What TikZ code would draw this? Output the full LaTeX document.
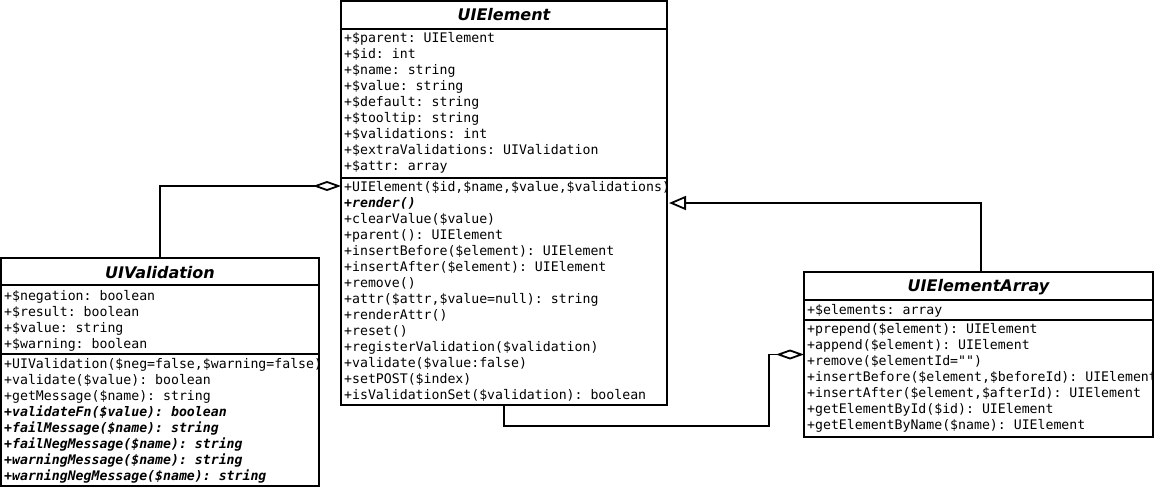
\documentclass[tikz,border=0pt]{standalone}
\usepackage{fontspec}
\setmonofont{DejaVu Sans Mono}
\setsansfont{DejaVu Sans}
\usetikzlibrary{arrows.meta}
% stack of member lines, 16pt apart, baseline on the first line
\newcommand\classlines[1]{\vtop{\baselineskip=16pt\lineskip=0pt\lineskiplimit=-100pt\halign{##\hfil\cr#1\crcr}}}
\tikzset{
  classbox/.style={draw=black, line width=1.8pt, fill=white, inner sep=0pt, outer sep=0pt, anchor=north west},
  compsep/.style={line width=1.8pt},
  members/.style={inner sep=0pt, anchor=base west, font=\fontsize{13.2pt}{16pt}\selectfont\ttfamily},
  classname/.style={inner sep=0pt, anchor=base, font=\fontsize{16pt}{19pt}\selectfont\sffamily\bfseries\itshape},
  aggregation/.style={line width=1.8pt, -{Diamond[fill=white,length=28pt,width=10pt]}},
  generalization/.style={line width=1.8pt, -{Triangle[fill=white,length=17pt,width=14pt]}},
}
\begin{document}
\begin{tikzpicture}[x=1pt,y=-1pt]
\fill[white] (0,0) rectangle (1154,487);
\useasboundingbox (0,0) rectangle (1154,487);

% ---- UIElement ----
\node[classbox, minimum width=326pt, minimum height=404pt] (el) at (341,1) {};
\draw[compsep] ([yshift=-28pt]el.north west) -- ([yshift=-28pt]el.north east);
\draw[compsep] ([yshift=-177pt]el.north west) -- ([yshift=-177pt]el.north east);
\node[classname] (el-name) at (504,21) {UIElement};
\node[members] (el-attr) at (344,43) {\classlines{%
+\$parent: UIElement\cr
+\$id: int\cr
+\$name: string\cr
+\$value: string\cr
+\$default: string\cr
+\$tooltip: string\cr
+\$validations: int\cr
+\$extraValidations: UIValidation\cr
+\$attr: array}};
\node[members] (el-ops) at (344,191) {\classlines{%
+UIElement(\$id,\$name,\$value,\$validations)\cr
\bfseries\itshape +render()\cr
+clearValue(\$value)\cr
+parent(): UIElement\cr
+insertBefore(\$element): UIElement\cr
+insertAfter(\$element): UIElement\cr
+remove()\cr
+attr(\$attr,\$value=null): string\cr
+renderAttr()\cr
+reset()\cr
+registerValidation(\$validation)\cr
+validate(\$value:false)\cr
+setPOST(\$index)\cr
+isValidationSet(\$validation): boolean}};

% ---- UIValidation ----
\node[classbox, minimum width=318pt, minimum height=228pt] (val) at (1,258) {};
\draw[compsep] ([yshift=-27pt]val.north west) -- ([yshift=-27pt]val.north east);
\draw[compsep] ([yshift=-96pt]val.north west) -- ([yshift=-96pt]val.north east);
\node[classname] (val-name) at (160,278) {UIValidation};
\node[members] (val-attr) at (4,300) {\classlines{%
+\$negation: boolean\cr
+\$result: boolean\cr
+\$value: string\cr
+\$warning: boolean}};
\node[members] (val-ops) at (4,368) {\classlines{%
+UIValidation(\$neg=false,\$warning=false)\cr
+validate(\$value): boolean\cr
+getMessage(\$name): string\cr
\bfseries\itshape +validateFn(\$value): boolean\cr
\bfseries\itshape +failMessage(\$name): string\cr
\bfseries\itshape +failNegMessage(\$name): string\cr
\bfseries\itshape +warningMessage(\$name): string\cr
\bfseries\itshape +warningNegMessage(\$name): string}};

% ---- UIElementArray ----
\node[classbox, minimum width=349pt, minimum height=165pt] (arr) at (804,272) {};
\draw[compsep] ([yshift=-28pt]arr.north west) -- ([yshift=-28pt]arr.north east);
\draw[compsep] ([yshift=-48pt]arr.north west) -- ([yshift=-48pt]arr.north east);
\node[classname] (arr-name) at (978.5,291) {UIElementArray};
\node[members] (arr-attr) at (807,314) {\classlines{%
+\$elements: array}};
\node[members] (arr-ops) at (807,333) {\classlines{%
+prepend(\$element): UIElement\cr
+append(\$element): UIElement\cr
+remove(\$elementId="")\cr
+insertBefore(\$element,\$beforeId): UIElement\cr
+insertAfter(\$element,\$afterId): UIElement\cr
+getElementById(\$id): UIElement\cr
+getElementByName(\$name): UIElement}};

% ---- relations ----
\draw[aggregation] (val.north) |- ([yshift=17pt]el.west);
\draw[aggregation] (el.south) -- ++(0,21) -| ([xshift=-35pt]arr.west) -- (arr.west);
\draw[generalization] ([xshift=2.5pt]arr.north) |- ([xshift=2pt]el.east);
\end{tikzpicture}
\end{document}
